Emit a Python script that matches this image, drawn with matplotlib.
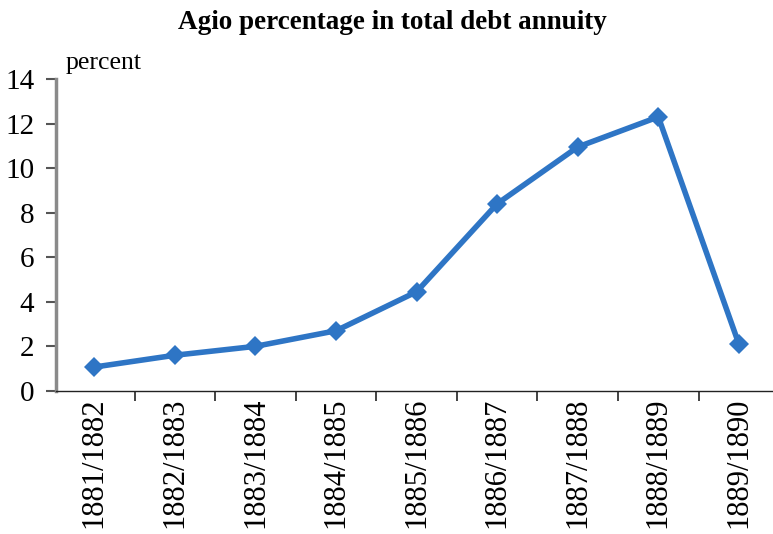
import numpy as np
from matplotlib import pyplot as plt

# agio share of total debt annuity, by fiscal year
years = ['1881/1882', '1882/1883', '1883/1884', '1884/1885', '1885/1886',
         '1886/1887', '1887/1888', '1888/1889', '1889/1890']
agio_pct = [1.07, 1.6, 2.0, 2.7, 4.45, 8.4, 10.95, 12.3, 2.1]

plt.rcParams['font.family'] = ['Liberation Serif', 'DejaVu Serif']

fig = plt.figure(figsize=(7.73, 5.34), dpi=100)
ax = fig.add_axes([0.073, 0.268, 0.935, 0.584])

x = np.arange(len(years))
ax.plot(x, agio_pct, color='#2E75C5', linewidth=4.0,
        marker='D', markersize=10, markeredgewidth=0)

ax.set_xlim(-0.47, len(years) - 0.5)
ax.set_ylim(0, 14)
ax.set_yticks(range(0, 15, 2))
ax.set_xticks(x)
ax.set_xticklabels(years, rotation=90, fontsize=22)
ax.set_xticks(np.arange(len(years)) + 0.5, minor=True)
ax.tick_params(axis='x', which='major', length=0, pad=5)
ax.tick_params(axis='x', which='minor', length=7, width=1.2, color='#222222')
ax.tick_params(axis='y', length=7, width=1.5, color='#555555', labelsize=21, pad=9)

for side in ['top', 'right']:
    ax.spines[side].set_visible(False)
ax.spines['left'].set_color('#8a8a8a')
ax.spines['left'].set_linewidth(2.5)
ax.spines['bottom'].set_color('#222222')
ax.spines['bottom'].set_linewidth(1.0)

fig.text(0.508, 0.958, 'Agio percentage in total debt annuity', ha='center',
         va='center', fontsize=19.5, fontweight='bold')
fig.text(0.085, 0.882, 'percent', ha='left', va='center', fontsize=18.5)

fig.savefig('out.png', dpi=100)
